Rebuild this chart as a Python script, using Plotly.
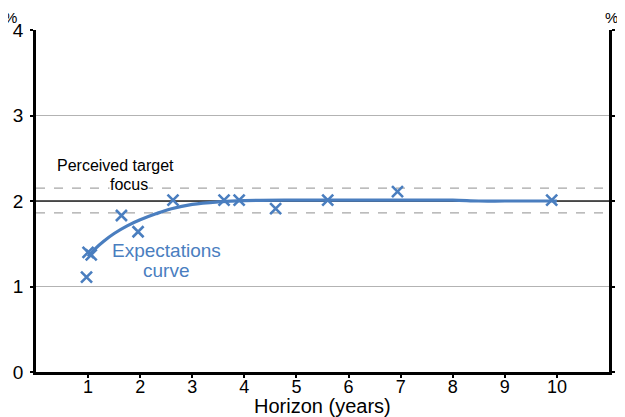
import plotly.graph_objects as go

# Survey points (horizon years, expected inflation %)
pts_x = [0.97, 1.0, 1.06, 1.64, 1.96, 2.63, 3.61, 3.9, 4.6, 5.6, 6.94, 9.9]
pts_y = [1.11, 1.40, 1.37, 1.83, 1.64, 2.01, 2.01, 2.01, 1.91, 2.01, 2.11, 2.01]

# Fitted expectations curve
curve_x = [1.0, 1.15, 1.3, 1.5, 1.75, 2.0, 2.3, 2.6, 3.0, 3.5, 4.0, 5.0, 6.0, 7.0, 8.0, 8.5, 9.0, 10.0]
curve_y = [1.35, 1.45, 1.53, 1.62, 1.71, 1.78, 1.85, 1.91, 1.96, 1.99, 2.005, 2.01, 2.01, 2.01, 2.01, 2.0, 2.0, 2.0]

target = 2.0
band = [1.86, 2.15]
x_range = [0, 11]
y_range = [0, 4]
x_ticks = [1, 2, 3, 4, 5, 6, 7, 8, 9, 10]
y_ticks = [0, 1, 2, 3, 4]

blue = "#4a7ebf"
font = "Liberation Sans, Arial, sans-serif"

fig = go.Figure()
for b in band:
    fig.add_trace(go.Scatter(x=x_range, y=[b, b], mode="lines",
                             line=dict(color="#a6a6a6", width=1.3, dash="dash"),
                             hoverinfo="skip", showlegend=False))
fig.add_trace(go.Scatter(x=x_range, y=[target, target], mode="lines",
                         line=dict(color="#222222", width=1.5),
                         hoverinfo="skip", showlegend=False))
fig.add_trace(go.Scatter(x=curve_x, y=curve_y, mode="lines",
                         line=dict(color=blue, width=3.2, shape="spline"),
                         showlegend=False))
fig.add_trace(go.Scatter(x=pts_x, y=pts_y, mode="markers",
                         marker=dict(symbol="x-thin", size=11, line=dict(color=blue, width=2.6)),
                         showlegend=False))
fig.add_trace(go.Scatter(x=[None], y=[None], yaxis="y2", showlegend=False))

fig.add_annotation(x=1.52, y=2.41, xref="x", yref="y", text="Perceived target",
                   showarrow=False, font=dict(family=font, size=16, color="black"))
fig.add_annotation(x=1.79, y=2.19, xref="x", yref="y", text="focus",
                   showarrow=False, font=dict(family=font, size=16, color="black"),
                   bgcolor="white", borderpad=0)
fig.add_annotation(x=2.5, y=1.42, xref="x", yref="y", text="Expectations",
                   showarrow=False, font=dict(family=font, size=19, color=blue))
fig.add_annotation(x=2.5, y=1.19, xref="x", yref="y", text="curve",
                   showarrow=False, font=dict(family=font, size=19, color=blue))
fig.add_annotation(x=0, y=1.0, xref="paper", yref="paper", text="%",
                   showarrow=False, font=dict(family=font, size=15, color="black"),
                   xanchor="center", yanchor="bottom", xshift=-26, yshift=3, borderpad=0)
fig.add_annotation(x=1, y=1.0, xref="paper", yref="paper", text="%",
                   showarrow=False, font=dict(family=font, size=15, color="black"),
                   xanchor="center", yanchor="bottom", xshift=2, yshift=3, borderpad=0)
fig.add_annotation(x=0.5, y=0, xref="paper", yref="paper", text="Horizon (years)",
                   showarrow=False, font=dict(family=font, size=20, color="black"),
                   xanchor="center", yanchor="middle", yshift=-34, borderpad=0)

axis_common = dict(showline=True, linecolor="black", linewidth=2.5, ticks="outside",
                   ticklen=3, tickcolor="black", tickwidth=1.5, zeroline=False,
                   automargin=False)
fig.update_layout(
    width=617, height=409,
    margin=dict(l=28, r=16, t=22, b=45),
    paper_bgcolor="white", plot_bgcolor="white",
    font=dict(family=font, color="black"),
    xaxis=dict(range=x_range, tickvals=x_ticks, showgrid=False,
               tickfont=dict(size=18), ticklabelstandoff=-6, **axis_common),
    yaxis=dict(range=y_range, tickvals=y_ticks, showgrid=True, gridcolor="#b3b3b3",
               gridwidth=1.3, tickfont=dict(size=19), ticklabelstandoff=3, **axis_common),
    yaxis2=dict(range=y_range, tickvals=y_ticks, overlaying="y", side="right",
                showgrid=False, tickfont=dict(size=19), ticklabelstandoff=-1, **axis_common),
)
fig.write_html("out.html")
